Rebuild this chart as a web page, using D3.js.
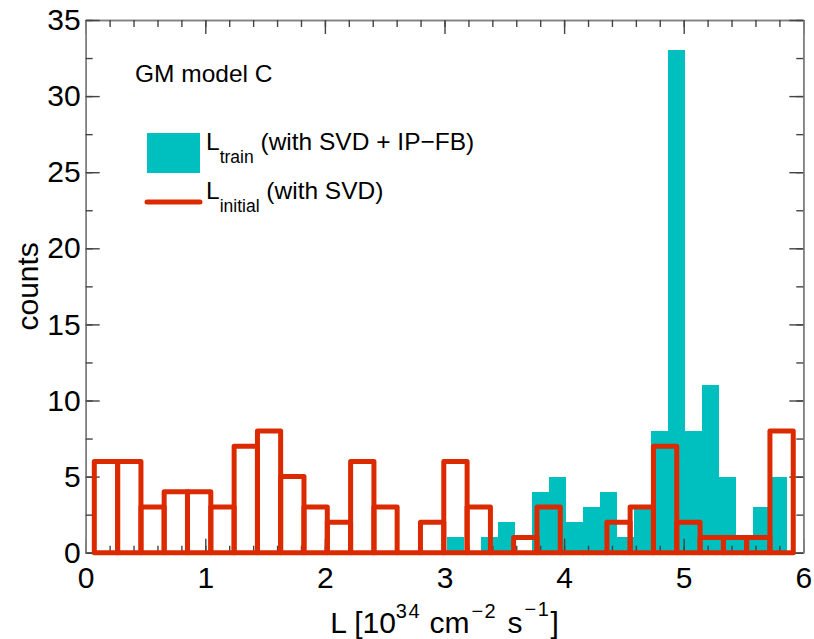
<!DOCTYPE html>
<html>
<head>
<meta charset="utf-8">
<script src="https://cdn.jsdelivr.net/npm/d3@7"></script>
<style>
  body { margin: 0; background: #fff; }
  svg { display: block; font-family: "Liberation Sans", Arial, Helvetica, sans-serif; }
</style>
</head>
<body>
<div id="chart"></div>
<script>
// bin edges + counts
const initialEdges = [0.072, 0.267, 0.462, 0.656, 0.851, 1.046, 1.241, 1.436, 1.630, 1.825,
    2.020, 2.215, 2.410, 2.604, 2.799, 2.994, 3.189, 3.384, 3.578, 3.773,
    3.968, 4.163, 4.358, 4.552, 4.747, 4.942, 5.137, 5.332, 5.526, 5.721, 5.916];
const initialCounts = [6, 6, 3, 4, 4, 3, 7, 8, 5, 3, 2, 6, 3, 0, 2, 6, 3, 0, 1, 3,
    0, 0, 2, 3, 7, 2, 1, 1, 1, 8];

const trainEdges = [3.018, 3.160, 3.302, 3.444, 3.587, 3.729, 3.871, 4.013, 4.155, 4.297,
    4.440, 4.582, 4.724, 4.866, 5.008, 5.150, 5.292, 5.435, 5.577, 5.719, 5.861];
const trainCounts = [1, 0, 1, 2, 0, 4, 5, 2, 3, 4, 1, 3, 8, 33, 8, 11, 5, 1, 3, 5];

const xTicks = [0, 1, 2, 3, 4, 5, 6];
const yTicks = [0, 5, 10, 15, 20, 25, 30, 35];
const xMinor = d3.range(0, 6.001, 0.2);
const yMinor = d3.range(0, 35.001, 2.5);

const width = 814;
const height = 639;
const cyan = "#00bfbf";
const red = "#dc2a00";

const x = d3.scaleLinear().domain([0, 6]).range([85.7, 803.3]);
const y = d3.scaleLinear().domain([0, 35]).range([552.7, 20]);

const svg = d3.create("svg")
    .attr("width", width)
    .attr("height", height)
    .attr("viewBox", [0, 0, width, height]);

svg.append("rect").attr("width", width).attr("height", height).attr("fill", "#fff");

const bin = (edges, counts) => counts.map((c, i) => ({x0: edges[i], x1: edges[i + 1], c}));

// filled train histogram
svg.append("g")
    .attr("shape-rendering", "crispEdges")
    .selectAll("rect")
    .data(bin(trainEdges, trainCounts).filter(d => d.c > 0))
    .join("rect")
    .attr("x", d => x(d.x0))
    .attr("width", d => x(d.x1) - x(d.x0))
    .attr("y", d => y(d.c))
    .attr("height", d => y(0) - y(d.c))
    .attr("fill", cyan);

// axes (ticks inward on all four sides)
function styleAxis(g) {
    g.select(".domain").attr("stroke", "#808080").attr("stroke-width", 1.6);
    g.selectAll(".tick line").attr("stroke", "#444").attr("stroke-width", 1.4);
    g.selectAll(".tick text").attr("fill", "#000").attr("font-size", 30)
        .attr("font-family", "'Liberation Sans', Arial, sans-serif");
}

svg.append("g").attr("transform", `translate(0,${y(0)})`)
    .call(d3.axisBottom(x).tickValues(xTicks).tickSize(-14).tickSizeOuter(0).tickPadding(14).tickFormat(d3.format("d")))
    .call(styleAxis);
svg.append("g").attr("transform", `translate(0,${y(0)})`)
    .call(d3.axisBottom(x).tickValues(xMinor).tickSize(-7).tickSizeOuter(0).tickFormat(""))
    .call(styleAxis);
svg.append("g").attr("transform", `translate(0,${y(35)})`)
    .call(d3.axisTop(x).tickValues(xTicks).tickSize(-14).tickSizeOuter(0).tickFormat(""))
    .call(styleAxis);
svg.append("g").attr("transform", `translate(0,${y(35)})`)
    .call(d3.axisTop(x).tickValues(xMinor).tickSize(-7).tickSizeOuter(0).tickFormat(""))
    .call(styleAxis);

svg.append("g").attr("transform", `translate(${x(0)},0)`)
    .call(d3.axisLeft(y).tickValues(yTicks).tickSize(-14).tickSizeOuter(0).tickPadding(5).tickFormat(d3.format("d")))
    .call(styleAxis);
svg.append("g").attr("transform", `translate(${x(0)},0)`)
    .call(d3.axisLeft(y).tickValues(yMinor).tickSize(-7).tickSizeOuter(0).tickFormat(""))
    .call(styleAxis);
svg.append("g").attr("transform", `translate(${x(6)},0)`)
    .call(d3.axisRight(y).tickValues(yTicks).tickSize(-14).tickSizeOuter(0).tickFormat(""))
    .call(styleAxis);
svg.append("g").attr("transform", `translate(${x(6)},0)`)
    .call(d3.axisRight(y).tickValues(yMinor).tickSize(-7).tickSizeOuter(0).tickFormat(""))
    .call(styleAxis);

// outlined initial histogram on top
svg.append("g")
    .selectAll("path")
    .data(bin(initialEdges, initialCounts))
    .join("path")
    .attr("d", d => `M${x(d.x0)},${y(0)}V${y(d.c)}H${x(d.x1)}V${y(0)}Z`)
    .attr("fill", "none")
    .attr("stroke", red)
    .attr("stroke-width", 5)
    .attr("stroke-linejoin", "round");

// axis titles
const xTitle = svg.append("text")
    .attr("x", (x(0) + x(6)) / 2)
    .attr("y", 633)
    .attr("text-anchor", "middle")
    .attr("font-size", 30)
    .attr("fill", "#000");
xTitle.append("tspan").text("L [10");
xTitle.append("tspan").attr("font-size", 20).attr("letter-spacing", 1.5).attr("dy", -15).text("34");
xTitle.append("tspan").attr("dy", 15).text(" cm");
xTitle.append("tspan").attr("font-size", 20).attr("letter-spacing", 1.5).attr("dy", -15).attr("dx", 2).text("\u22122");
xTitle.append("tspan").attr("dy", 15).attr("dx", 2).text(" s");
xTitle.append("tspan").attr("font-size", 20).attr("letter-spacing", 1.5).attr("dy", -17).attr("dx", 2).text("\u22121");
xTitle.append("tspan").attr("dy", 17).text("]");

svg.append("text")
    .attr("transform", `translate(38,${(y(0) + y(35)) / 2}) rotate(-90)`)
    .attr("text-anchor", "middle")
    .attr("font-size", 30)
    .attr("fill", "#000")
    .text("counts");

// annotation + legend
svg.append("text")
    .attr("x", 135).attr("y", 82)
    .attr("font-size", 24.5)
    .attr("fill", "#000")
    .text("GM model C");

svg.append("rect")
    .attr("x", 147).attr("y", 133)
    .attr("width", 53).attr("height", 40)
    .attr("fill", cyan);

const l1 = svg.append("text").attr("x", 206).attr("y", 150).attr("font-size", 24.5).attr("fill", "#000");
l1.append("tspan").text("L");
l1.append("tspan").attr("font-size", 17.5).attr("dy", 12.7).text("train");
l1.append("tspan").attr("dy", -12.7).text(" (with SVD + IP\u2212FB)");

svg.append("line")
    .attr("x1", 147).attr("x2", 200)
    .attr("y1", 202).attr("y2", 202)
    .attr("stroke", red)
    .attr("stroke-width", 5)
    .attr("stroke-linecap", "round");

const l2 = svg.append("text").attr("x", 206).attr("y", 199.3).attr("font-size", 24.5).attr("fill", "#000");
l2.append("tspan").text("L");
l2.append("tspan").attr("font-size", 17.5).attr("dy", 12.4).text("initial");
l2.append("tspan").attr("dy", -12.4).text(" (with SVD)");

document.getElementById("chart").appendChild(svg.node());
</script>
</body>
</html>
